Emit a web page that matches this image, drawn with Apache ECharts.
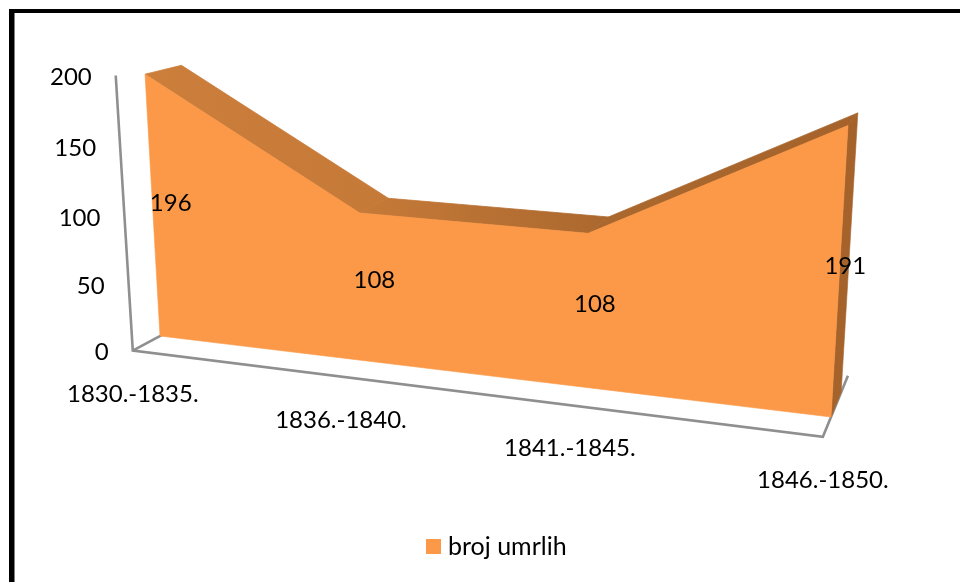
<!DOCTYPE html>
<html><head><meta charset="utf-8">
<style>html,body{margin:0;padding:0;background:#fff}#c{width:960px;height:582px}</style>
<script src="https://cdn.jsdelivr.net/npm/echarts@6/dist/echarts.min.js"></script>
</head><body><div id="c"></div>
<script>
const categories = ['1830.-1835.', '1836.-1840.', '1841.-1845.', '1846.-1850.'];
const deaths = [196, 108, 108, 191];
const valueTicks = [0, 50, 100, 150, 200];
const seriesName = 'broj umrlih';

// --- perspective layout: image of the front plane's unit square, and depth direction
const QUAD = [[160,336],[831,417],[848.8,111],[144.7,68.6]]; // (u,v) = (0,0),(1,0),(1,1),(0,1)
const VP = [1064,-150], DEPTH = 0.0395;
const Z_FRONT = -0.74, Z_BACK = 1.72;
const FONT = 'Lato', FS = 24, LEGEND_FS = 25;
const labelNudgeX = [18, 13, 8, 6];
const labelNudgeY = [-5, -7, -7, -9];
const GRID = {left:100, top:100, width:600, height:300};

const H = (function(q){
  const [x0,y0]=q[0],[x1,y1]=q[1],[x2,y2]=q[2],[x3,y3]=q[3];
  const dx1=x1-x2,dx2=x3-x2,sx=x0-x1+x2-x3,dy1=y1-y2,dy2=y3-y2,sy=y0-y1+y2-y3;
  const den=dx1*dy2-dx2*dy1, g=(sx*dy2-dx2*sy)/den, h=(dx1*sy-sx*dy1)/den;
  return {a:x1-x0+g*x1,b:x3-x0+h*x3,c:x0,d:y1-y0+g*y1,e:y3-y0+h*y3,f:y0,g:g,h:h};
})(QUAD);

// api.coord places the datum through the hidden axes' scales; the result is then projected.
function project(api, i, v, z){
  const p = api.coord([i, v]);
  const u = (p[0]-GRID.left)/GRID.width, t = (GRID.top+GRID.height-p[1])/GRID.height;
  const w = H.g*u+H.h*t+1, k = (z||0)*DEPTH;
  return [(H.a*u+H.b*t+H.c+k*VP[0])/(w+k), (H.d*u+H.e*t+H.f+k*VP[1])/(w+k)];
}
function poly(points, fill){
  return {type:'polygon', shape:{points:points}, style:{fill:fill, stroke:fill, lineWidth:0.6}};
}
function line(points){
  return {type:'polyline', shape:{points:points}, style:{fill:'none', stroke:'#8f8f8f', lineWidth:2.6}};
}
function text(x, y, s, align){
  return {type:'text', style:{x:x, y:y, text:String(s), fill:'#000', font:FS+'px '+FONT, align:align||'center', verticalAlign:'middle'}};
}
function grad(x1,x2,c1,c2){
  return new echarts.graphic.LinearGradient(x1,0,x2,0,[{offset:0,color:c1},{offset:1,color:c2}],true);
}

function makeTick(api){
  const p = project(api,0,api.value(1),Z_FRONT);
  return text(p[0]-24, p[1]+2, api.value(1), 'right');
}
function renderAxes(params, api){
  if(params.dataIndex===0){
    const last = categories.length-1;
    return {type:'group', children:[
      line([project(api,0,200,Z_FRONT), project(api,0,0,Z_FRONT), project(api,last,0,Z_FRONT),
            project(api,last,0,Z_BACK), project(api,last-0.03,0,Z_BACK)]),
      line([project(api,0,0,Z_FRONT), project(api,0,0,Z_BACK)]),
      makeTick(api)
    ]};
  }
  return makeTick(api);
}

function renderArea(params, api){
  const n = params.dataInsideLength;
  if(params.dataIndex!==0) return null;
  const top=[], back=[], vals=[];
  for(let k=0;k<n;k++){
    const v=api.value(1,k); vals.push(v);
    top.push(project(api,k,v,0)); back.push(project(api,k,v,1));
  }
  const ch=[];
  // right side wall
  ch.push(poly([top[n-1],back[n-1],project(api,n-1,0,1),project(api,n-1,0,0)],'#a5632b'));
  // top strips
  const cols=[['#cc7e3b','#c67a38'],['#c67a38','#ab682e'],['#ab682e','#a5632b']];
  for(let k=0;k<n-1;k++){
    const c=grad(top[k][0],back[k+1][0],cols[k][0],cols[k][1]);
    ch.push({type:'polygon',shape:{points:[top[k],back[k],back[k+1],top[k+1]]},style:{fill:c,stroke:c,lineWidth:0.8}});
  }
  // front face
  ch.push(poly(top.concat([project(api,n-1,0,0),project(api,0,0,0)]),'#fb9948'));
  // labels
  for(let k=0;k<n;k++){
    const m=project(api,k,vals[k]/2,0);
    ch.push(text(m[0]+labelNudgeX[k],m[1]+labelNudgeY[k],vals[k]));
    const b=project(api,k,0,Z_FRONT);
    ch.push(text(b[0],b[1]+43.5,categories[k]));
  }
  return {type:'group',children:ch};
}

const chart = echarts.init(document.getElementById('c'),null,{renderer:'canvas'});
chart.setOption({
  animation:false,
  backgroundColor:'#fff',
  grid:Object.assign({},GRID),
  xAxis:{type:'category',data:categories,boundaryGap:false,show:false},
  yAxis:{type:'value',min:0,max:200,interval:50,show:false},
  legend:{left:421,top:529,padding:5,itemWidth:15,itemHeight:15,icon:'rect',
    data:[seriesName],textStyle:{fontFamily:FONT,fontSize:LEGEND_FS,color:'#000',padding:[0,0,0,2]}},
  graphic:[
    {type:'rect',silent:true,shape:{x:9,y:9,width:951,height:4},style:{fill:'#000'}},
    {type:'rect',silent:true,shape:{x:9,y:9,width:5.5,height:573},style:{fill:'#000'}}
  ],
  series:[
    {type:'custom',name:'axes',coordinateSystem:'cartesian2d',z:1,silent:true,clip:false,
     data:valueTicks.map(v=>[0,v]),encode:{x:0,y:1},renderItem:renderAxes},
    {type:'custom',name:seriesName,coordinateSystem:'cartesian2d',z:2,silent:true,clip:false,
     itemStyle:{color:'#fb9948'},
     data:deaths.map((v,i)=>[i,v]),encode:{x:0,y:1},renderItem:renderArea}
  ]
});
</script></body></html>
